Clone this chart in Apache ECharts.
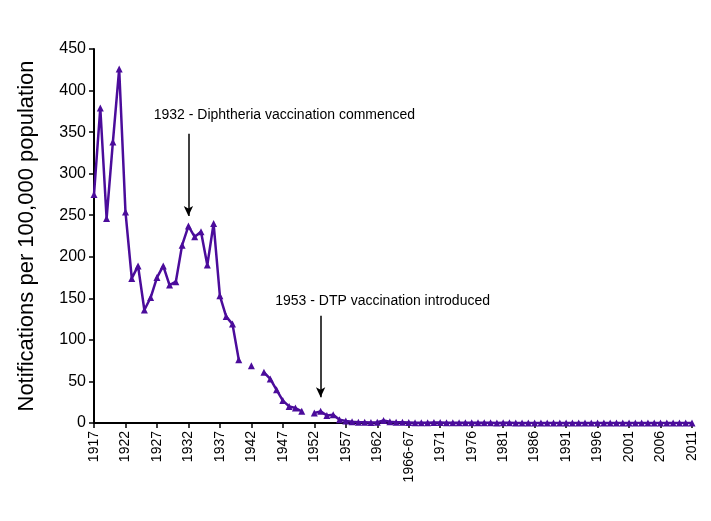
<!DOCTYPE html>
<html>
<head>
<meta charset="utf-8">
<script src="https://cdn.jsdelivr.net/npm/echarts@6/dist/echarts.min.js"></script>
<style>
  html, body { margin: 0; padding: 0; background: #fff; }
  #chart { width: 711px; height: 521px; }
</style>
</head>
<body>
<div id="chart"></div>
<script>
// -- data --
let earlyYears = [];
for (let y = 1917; y <= 1966; y++) earlyYears.push(String(y));
let lateYears = [];
for (let y = 1967; y <= 2011; y++) lateYears.push(String(y));
let categories = earlyYears.concat(['1966-67'], lateYears);

let rates1917to1966 = [
  275, 379, 246, 338, 426, 254, 174, 189, 136, 151,
  175, 189, 166, 170, 214, 237, 224, 230, 190, 240,
  153, 128, 119, 76, null, 69, null, 61, 53, 40,
  27, 20, 18, 14, null, 12, 14, 9, 10, 4,
  2.5, 1.5, 1, 0.8, 0.6, 1, 3, 1.5, 1, 0.8
];
let rate196667 = [0.6];
let rates1967to2011 = [
  0.4, 0.4, 0.3, 0.5, 0.6, 0.4, 0.3, 0.3, 0.2, 0.3,
  0.2, 0.2, 0.2, 0.1, 0.2, 0.2, 0.1, 0.1, 0.1, 0.1,
  0.1, 0.1, 0.1, 0.1, 0.1, 0.1, 0.1, 0.1, 0.1, 0.1,
  0.1, 0.1, 0.1, 0.1, 0.1, 0.1, 0.1, 0.1, 0.1, 0.1,
  0.1, 0.1, 0.1, 0.1, 0.1
];
let rates = rates1917to1966.concat(rate196667, rates1967to2011);

// annotations: [category, arrow start, arrow end, label value, label text, label shift]
let notes = [
  ['1932', 348, 249, 370, '1932 - Diphtheria vaccination commenced', 96],
  ['1953', 129, 31, 147, '1953 - DTP vaccination introduced', 62]
];

let yTicks = {min: 0, max: 450, interval: 50};

let lineColor = '#4b0c9b';
let font = 'Liberation Sans, Arial, sans-serif';

let option = {
  animation: false,
  grid: {left: 94, right: 19, top: 49, bottom: 98},
  xAxis: {
    type: 'category',
    data: categories,
    boundaryGap: false,
    axisLine: {lineStyle: {color: '#000', width: 2}},
    axisTick: {interval: 4, length: 5, lineStyle: {color: '#000', width: 1.5}},
    axisLabel: {
      interval: 4, rotate: 90, color: '#000', fontSize: 14, fontFamily: font, margin: 8
    },
    splitLine: {show: false}
  },
  yAxis: {
    type: 'value',
    min: yTicks.min,
    max: yTicks.max,
    interval: yTicks.interval,
    name: 'Notifications per 100,000 population',
    nameLocation: 'middle',
    nameGap: 56,
    nameTextStyle: {color: '#000', fontSize: 22, fontFamily: font},
    axisLine: {show: true, lineStyle: {color: '#000', width: 2}},
    axisTick: {show: true, length: 5, lineStyle: {color: '#000', width: 1.5}},
    axisLabel: {color: '#000', fontSize: 16, fontFamily: font, margin: 8},
    splitLine: {show: false}
  },
  series: [{
    type: 'line',
    data: rates,
    connectNulls: false,
    symbol: 'triangle',
    symbolSize: 7,
    showAllSymbol: true,
    lineStyle: {color: lineColor, width: 2.5},
    itemStyle: {color: lineColor},
    markLine: {
      silent: true,
      symbol: ['none', 'arrow'],
      symbolSize: [7, 10],
      lineStyle: {color: '#000', width: 1.5, type: 'solid'},
      label: {show: false},
      data: notes.map(n => [{coord: [n[0], n[1]]}, {coord: [n[0], n[2]]}])
    },
    markPoint: {
      silent: true,
      symbol: 'circle',
      symbolSize: 0,
      label: {
        show: true,
        color: '#000',
        fontSize: 14,
        fontFamily: font,
        formatter: p => p.name
      },
      data: notes.map(n => ({
        name: n[4],
        coord: [n[0], n[3]],
        label: {offset: [n[5], 0]}
      }))
    }
  }]
};

let myChart = echarts.init(document.getElementById('chart'));
myChart.setOption(option);
</script>
</body>
</html>
